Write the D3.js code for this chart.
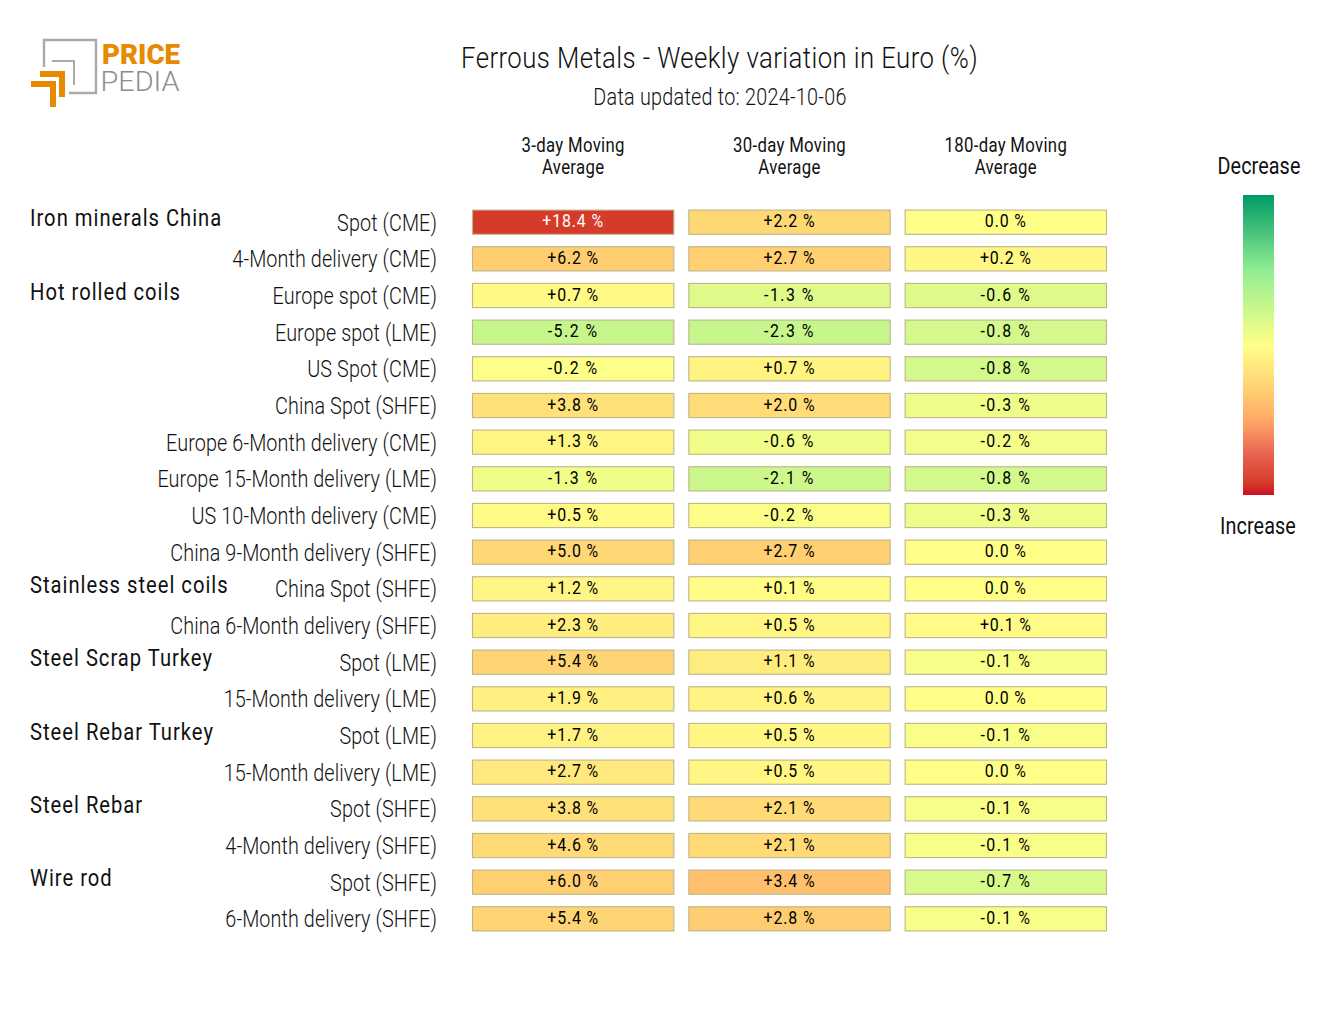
<!DOCTYPE html>
<html><head><meta charset="utf-8">
<script src="https://cdn.jsdelivr.net/npm/d3@7"></script>
<style>
html,body{margin:0;padding:0;background:#fff}
svg{display:block}
text{font-family:Roboto,sans-serif;fill:#111}
</style></head><body>
<div id="chart"></div>
<script>
const title = "Ferrous Metals - Weekly variation in Euro (%)";
const subtitle = "Data updated to: 2024-10-06";
const columns = [["3-day Moving","Average"],["30-day Moving","Average"],["180-day Moving","Average"]];
const groups = ["Iron minerals China",null,"Hot rolled coils",null,null,null,null,null,null,null,"Stainless steel coils",null,"Steel Scrap Turkey",null,"Steel Rebar Turkey",null,"Steel Rebar",null,"Wire rod",null];
const rows = ["Spot (CME)","4-Month delivery (CME)","Europe spot (CME)","Europe spot (LME)","US Spot (CME)","China Spot (SHFE)","Europe 6-Month delivery (CME)","Europe 15-Month delivery (LME)","US 10-Month delivery (CME)","China 9-Month delivery (SHFE)","China Spot (SHFE)","China 6-Month delivery (SHFE)","Spot (LME)","15-Month delivery (LME)","Spot (LME)","15-Month delivery (LME)","Spot (SHFE)","4-Month delivery (SHFE)","Spot (SHFE)","6-Month delivery (SHFE)"];
const ma3 = [18.4,6.2,0.7,-5.2,-0.2,3.8,1.3,-1.3,0.5,5.0,1.2,2.3,5.4,1.9,1.7,2.7,3.8,4.6,6.0,5.4];
const ma30 = [2.2,2.7,-1.3,-2.3,0.7,2.0,-0.6,-2.1,-0.2,2.7,0.1,0.5,1.1,0.6,0.5,0.5,2.1,2.1,3.4,2.8];
const ma180 = [0.0,0.2,-0.6,-0.8,-0.8,-0.3,-0.2,-0.8,-0.3,0.0,0.0,0.1,-0.1,0.0,-0.1,0.0,-0.1,-0.1,-0.7,-0.1];
const series = [ma3,ma30,ma180];
const colorLimits = [20,9,4];
const colorStops = ["#009966","#90ee90","#ffff88","#ffcc70","#ffa866","#e8604f","#d63b2a","#cc1122"];
const colorPos = [0,0.25,0.5,0.66,0.75,0.87,0.96,1];
const legendLabels = ["Decrease","Increase"];

const W=1320,H=1020;
const svg=d3.select("#chart").append("svg").attr("width",W).attr("height",H);

const SX=0.86;
function cond(sel,x,y,ls,w){return sel.attr("transform",`translate(${x},${y}) scale(${SX},1)`).style("letter-spacing",(ls||0)+"px").attr("font-weight",w||400);}

const x=d3.scaleBand().domain([0,1,2]).range([472.5,1106.5]).paddingInner(0.0693).paddingOuter(0);
const y=d3.scaleBand().domain(d3.range(rows.length)).range([197.6,943.4]).padding(0.34);
const ramp=d3.scaleLinear().domain(colorPos).range(colorStops).interpolate(d3.interpolateRgb);
const color=(v,c)=>ramp(d3.scaleLinear().domain([-colorLimits[c],colorLimits[c]]).range([0,1])(v));
const fmt=v=>v===0?"0.0 %":(v>0?"+":"-")+Math.abs(v).toFixed(1)+" %";

// header
cond(svg.append("text").text(title).attr("text-anchor","middle").attr("font-size",30),719.5,68,0.47,300);
cond(svg.append("text").text(subtitle).attr("text-anchor","middle").attr("font-size",23).attr("fill","#222"),720,105,0.3,300);

columns.forEach((c,i)=>{
  const cx=x(i)+x.bandwidth()/2;
  c.forEach((t,j)=>cond(svg.append("text").text(t).attr("text-anchor","middle").attr("font-size",19.5),cx,152+j*22,0.35));
});

// row axis
const axis=d3.axisLeft(y).tickSize(0).tickPadding(0).tickFormat(i=>rows[i]);
const ag=svg.append("g").attr("transform","translate(437,0)").call(axis);
ag.select(".domain").remove();
ag.selectAll("text").style("font-family","Roboto,sans-serif").attr("font-size",23).attr("fill","#222").attr("font-weight",300)
  .style("letter-spacing","0.12px")
  .attr("dy","0.35em").attr("transform",`translate(0,0.5) scale(${SX},1)`);

// group labels
groups.forEach((g,i)=>{ if(g) cond(svg.append("text").text(g).attr("font-size",23.5).attr("fill","#000"),30,y(i)+y.bandwidth()/2+4,1.15,400); });

// cells
series.forEach((vals,c)=>{
  const g=svg.append("g");
  g.selectAll("rect").data(vals).join("rect")
    .attr("x",x(c)).attr("y",(d,i)=>y(i)).attr("width",x.bandwidth()).attr("height",y.bandwidth())
    .attr("fill",d=>color(d,c)).attr("stroke","#bdb58c").attr("stroke-width",1.1);
  g.selectAll("text").data(vals).join("text").text(fmt)
    .attr("text-anchor","middle").attr("font-size",18.5)
    .style("letter-spacing",d=>d<0?"1.7px":"1px")
    .style("fill",d=>Math.abs(d)>15?"#fff":"#000")
    .attr("transform",(d,i)=>`translate(${x(c)+x.bandwidth()/2},${y(i)+y.bandwidth()/2+5.2}) scale(${SX},1)`);
});

// legend
const defs=svg.append("defs");
const lg=defs.append("linearGradient").attr("id","lg").attr("x1",0).attr("x2",0).attr("y1",0).attr("y2",1);
colorStops.forEach((s,i)=>lg.append("stop").attr("offset",colorPos[i]).attr("stop-color",s));
svg.append("rect").attr("x",1243).attr("y",195).attr("width",31).attr("height",300).attr("fill","url(#lg)");
cond(svg.append("text").text(legendLabels[0]).attr("text-anchor","middle").attr("font-size",23),1259,174,0.1);
cond(svg.append("text").text(legendLabels[1]).attr("text-anchor","middle").attr("font-size",23),1258,533.5,0.1);

// logo
const logo=svg.append("g");
logo.append("path").attr("d","M44 67V40H96V93H69").attr("fill","none").attr("stroke","#aaa").attr("stroke-width",2.4);
logo.append("path").attr("d","M52 61H74V85").attr("fill","none").attr("stroke","#aaa").attr("stroke-width",2);
logo.append("path").attr("d","M40 74H62V97 M31 84H53V107").attr("fill","none").attr("stroke","#e68a00").attr("stroke-width",6);
logo.append("text").text("PRICE").attr("x",102).attr("y",64).attr("font-size",28).attr("font-weight",900).style("fill","#e68a00").attr("textLength",78).attr("lengthAdjust","spacingAndGlyphs");
logo.append("text").text("PEDIA").attr("x",100.5).attr("y",91).attr("font-size",28).attr("font-weight",300).style("fill","#8d8d8d").attr("textLength",79).attr("lengthAdjust","spacingAndGlyphs");
</script>
</body></html>
